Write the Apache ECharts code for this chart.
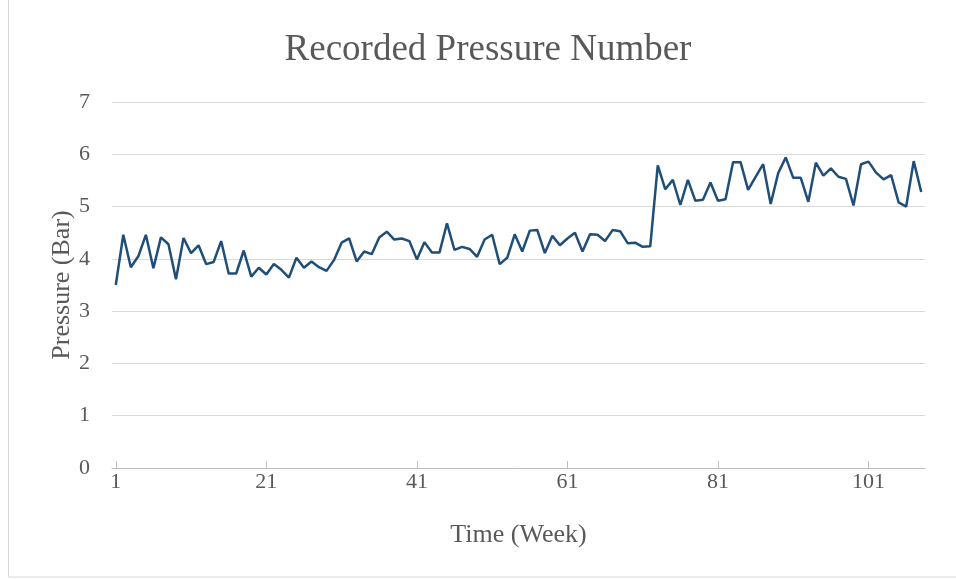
<!DOCTYPE html>
<html>
<head>
<meta charset="utf-8">
<script src="https://cdn.jsdelivr.net/npm/echarts@6/dist/echarts.min.js"></script>
<style>html,body{margin:0;padding:0;background:#fff}#c{width:956px;height:579px}</style>
</head>
<body>
<div id="c"></div>
<script>
const titleText = "Recorded Pressure Number";
const xAxisName = "Time (Week)";
const yAxisName = "Pressure (Bar)";
const pressure = [
  3.50, 4.46, 3.84, 4.05, 4.46, 3.82, 4.41, 4.28, 3.61, 4.40,
  4.11, 4.26, 3.90, 3.94, 4.34, 3.72, 3.72, 4.16, 3.66, 3.83,
  3.70, 3.90, 3.79, 3.64, 4.02, 3.83, 3.95, 3.84, 3.77, 3.98,
  4.31, 4.39, 3.95, 4.14, 4.09, 4.41, 4.52, 4.37, 4.39, 4.34,
  3.99, 4.32, 4.12, 4.12, 4.68, 4.17, 4.23, 4.19, 4.04, 4.37,
  4.46, 3.90, 4.02, 4.47, 4.14, 4.54, 4.55, 4.11, 4.44, 4.26,
  4.39, 4.50, 4.14, 4.47, 4.46, 4.34, 4.55, 4.53, 4.30, 4.31,
  4.23, 4.24, 5.79, 5.33, 5.51, 5.03, 5.51, 5.11, 5.13, 5.46,
  5.11, 5.14, 5.85, 5.85, 5.32, 5.57, 5.81, 5.05, 5.64, 5.94,
  5.55, 5.55, 5.09, 5.84, 5.59, 5.73, 5.57, 5.53, 5.02, 5.81,
  5.86, 5.65, 5.52, 5.60, 5.08, 5.00, 5.87, 5.28
];
const weeks = pressure.map((_, i) => String(i + 1));
const yMin = 0, yMax = 7, yStep = 1;

const font = "'Liberation Serif', 'Times New Roman', serif";
const chart = echarts.init(document.getElementById('c'), null, {renderer: 'canvas'});
chart.setOption({
  animation: false,
  backgroundColor: '#ffffff',
  graphic: [{
    type: 'rect', silent: true, z: -1,
    shape: {x: 8.5, y: -2, width: 960, height: 579},
    style: {fill: 'none', stroke: '#d9d9d9', lineWidth: 1}
  }],
  title: {
    text: titleText, left: 483, top: 27, textAlign: 'center',
    textStyle: {fontFamily: font, fontSize: 37, fontWeight: 'normal', color: '#595959'}
  },
  grid: {left: 112, right: 31, top: 102, bottom: 111, containLabel: false},
  xAxis: {
    type: 'category', data: weeks, boundaryGap: true,
    name: xAxisName, nameLocation: 'middle', nameGap: 54, nameMoveOverlap: false,
    nameTextStyle: {fontFamily: font, fontSize: 26, color: '#595959'},
    axisLine: {lineStyle: {color: '#bfbfbf', width: 1}},
    axisTick: {show: true, inside: true, length: 7, interval: 19, alignWithLabel: true, lineStyle: {color: '#bfbfbf'}},
    axisLabel: {interval: 19, fontFamily: font, fontSize: 22, color: '#595959', margin: 3},
    splitLine: {show: false}
  },
  yAxis: {
    type: 'value', min: yMin, max: yMax, interval: yStep,
    name: yAxisName, nameLocation: 'middle', nameGap: 37, nameMoveOverlap: false,
    nameTextStyle: {fontFamily: font, fontSize: 26, color: '#595959'},
    axisLine: {show: false}, axisTick: {show: false},
    axisLabel: {fontFamily: font, fontSize: 22, color: '#595959', margin: 22},
    splitLine: {lineStyle: {color: '#d9d9d9', width: 1}}
  },
  series: [{
    type: 'line', data: pressure, showSymbol: false, symbol: 'none',
    lineStyle: {color: '#1f4e79', width: 2.5},
    itemStyle: {color: '#1f4e79'}
  }]
});
</script>
</body>
</html>
